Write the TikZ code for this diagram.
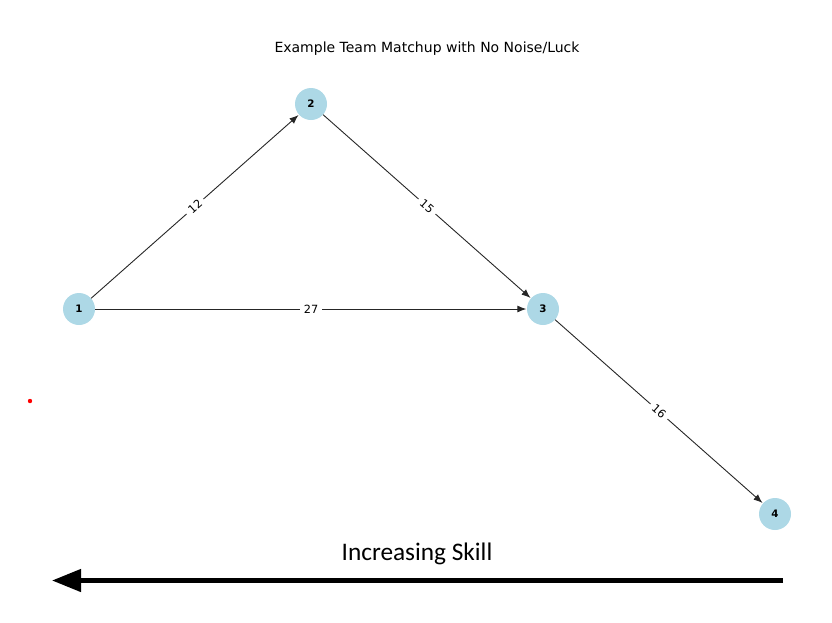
\documentclass[tikz,border=0pt]{standalone}
\usepackage{fontspec}
\setmainfont{DejaVu Sans}
\newfontfamily\carlito{Carlito}
\usetikzlibrary{arrows.meta}
\definecolor{nodeblue}{RGB}{173,216,230}
\tikzset{
  team/.style={circle,fill=nodeblue,minimum size=32pt,inner sep=0pt,font=\fontsize{10.3}{12}\selectfont\bfseries},
  match/.style={draw=black!85,line width=0.9pt,-{Latex[length=9pt,width=7pt]},shorten >=0.5pt},
  score/.style={fill=white,inner xsep=4pt,inner ysep=2pt,font=\fontsize{11.3}{13}\selectfont,sloped}
}
\begin{document}
\begin{tikzpicture}[x=1pt,y=-1pt]
\useasboundingbox (0,0) rectangle (832,622);
\node[font=\fontsize{14}{16}\selectfont] (title) at (427,49) {Example Team Matchup with No Noise/Luck};
\node[team] (n1) at (79,309) {1};
\node[team] (n2) at (311,104) {2};
\node[team] (n3) at (543,309) {3};
\node[team] (n4) at (775,514) {4};
\draw[match] (n1) -- node[score] {12} (n2);
\draw[match] (n2) -- node[score] {15} (n3);
\draw[match] (n1) -- node[score] {27} (n3);
\draw[match] (n3) -- node[score] {16} (n4);
\fill[red] (30,401) circle (2.2);
\node[font=\carlito\fontsize{25.3}{28}\selectfont] (skill) at (417,554) {Increasing Skill};
\coordinate (skillstart) at (783,580.5);
\coordinate (skillend) at (52,580.5);
\draw[line width=4.5pt,-{Triangle[length=29pt,width=22pt]}] (skillstart) -- (skillend);
\end{tikzpicture}
\end{document}
